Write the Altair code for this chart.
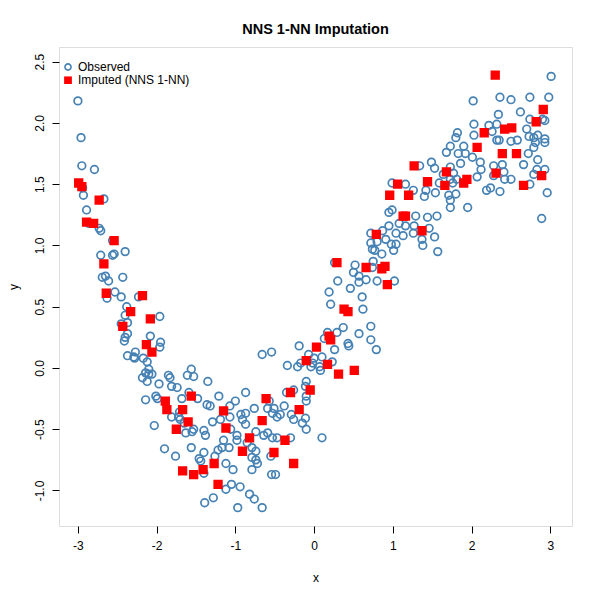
import altair as alt
import pandas as pd

# Observed points
obs_x = [-3.00,-2.96,-2.95,-2.79,-2.94,-2.93,-2.67,-2.89,-2.86,-2.73,-2.71,-2.56,-2.71,-2.56,-2.54,-2.40,-2.69,-2.65,-2.61,-2.43,
         -2.63,-2.53,-2.45,-2.23,-2.38,-2.40,-1.96,-2.45,-2.37,-2.37,-2.40,-2.41,-2.08,-1.95,-1.96,-2.37,-2.27,-2.29,-2.28,-2.17,
         -2.12,-2.10,-1.56,
         -2.14,-2.10,-2.06,-2.18,-2.12,-1.97,-1.85,-1.83,-1.61,-1.53,-1.81,-1.74,-1.35,-0.87,-1.21,-2.14,-2.01,-1.99,-1.68,-1.59,
         -1.48,-1.36,-1.32,-1.07,-1.00,-0.76,-0.57,-0.51,-0.59,-0.53,-0.47,-1.71,-1.72,-1.70,-1.65,-1.81,-2.03,-1.55,-1.53,-1.63,
         -1.40,-1.38,-1.29,-1.19,-1.07,-0.93,-0.87,-0.91,-0.87,-0.98,-1.06,-0.74,-0.59,-0.53,-0.47,-0.64,-1.15,-1.08,-1.17,-1.22,
         -0.98,-1.90,-1.76,-1.56,-1.46,-1.44,-1.40,-1.26,-1.12,-1.03,-0.79,-0.74,-0.79,-0.74,-0.72,-0.79,-0.55,-0.54,-0.49,-1.40,
         -1.12,-1.05,-0.94,-1.28,-1.39,-0.97,-0.82,-0.76,-0.66,
         -0.66,-0.54,-0.43,-0.38,-0.35,-0.26,-0.11,-0.10,-0.10,-0.29,-0.26,-0.15,-0.10,0.10,-0.11,-0.30,-0.85,
         0.26,0.52,0.50,0.57,0.66,0.57,0.46,0.30,0.19,0.21,0.61,0.62,0.80,0.72,0.77,0.86,0.75,0.80,0.17,0.29,
         0.37,0.13,0.26,0.43,0.44,0.57,0.72,0.72,0.79,-0.19,-0.07,0.00,0.10,0.07,0.23,-0.02,-0.04,-0.17,-0.21,-0.34,
         0.08,-0.10,
         0.72,0.87,0.91,1.04,1.04,0.74,0.74,1.02,0.98,1.01,0.95,0.99,1.29,1.44,1.56,1.08,1.16,1.27,0.95,1.46,
         1.13,1.26,1.53,1.37,1.38,1.57,1.95,1.73,1.73,1.71,1.80,1.54,1.40,
         2.03,2.22,2.32,1.82,1.80,2.03,2.32,1.73,1.90,1.68,1.83,1.92,2.01,1.86,2.11,2.12,2.28,1.49,1.53,1.34,
         1.73,1.64,1.77,1.81,2.07,1.76,1.59,1.42,1.26,1.16,0.99,2.19,2.24,2.28,
         3.01,2.02,2.36,2.50,2.74,2.98,2.34,2.62,2.74,2.90,2.93,2.26,2.70,2.73,2.79,2.84,2.93,2.93,2.81,2.79,
         2.35,2.50,2.58,2.39,2.41,2.50,2.42,2.72,2.84,2.66,2.83,2.93,2.79,2.74,2.96,2.36,1.73,2.89]
obs_y = [2.18,1.88,1.65,1.62,1.47,1.41,1.38,1.29,1.18,1.14,1.12,1.04,0.92,0.92,0.93,0.95,0.74,0.75,0.71,0.74,
         0.57,0.62,0.58,0.58,0.50,0.43,0.42,0.36,0.37,0.28,0.25,0.22,0.26,0.21,0.17,0.10,0.13,0.09,0.08,0.08,
         0.05,-0.01,-0.01,
         -0.04,-0.05,-0.05,-0.08,-0.11,-0.13,-0.06,-0.08,-0.06,-0.07,-0.15,-0.16,-0.11,-0.20,-0.23,-0.26,-0.23,-0.25,-0.25,-0.20,
         -0.25,-0.30,-0.31,-0.31,-0.27,-0.33,-0.27,-0.33,-0.33,-0.37,-0.40,-0.36,-0.40,-0.42,-0.45,-0.40,-0.47,-0.52,-0.50,-0.53,
         -0.51,-0.55,-0.44,-0.42,-0.40,-0.38,-0.37,-0.42,-0.46,-0.55,-0.50,-0.52,-0.53,-0.57,-0.57,-0.55,-0.59,-0.65,-0.65,-0.67,
         -0.59,-0.66,-0.72,-0.65,-0.74,-0.76,-0.69,-0.72,-0.78,-0.83,-0.65,-0.68,-0.73,-0.75,-0.78,-0.83,-0.72,-0.87,-0.87,-0.86,
         -0.99,-0.95,-0.97,-1.06,-1.10,-1.14,-1.03,-1.07,-1.14,
         0.11,0.13,-0.38,-0.31,-0.20,-0.18,-0.15,-0.23,-0.27,-0.38,-0.42,-0.45,-0.50,-0.57,-0.41,-0.57,-0.61,
         0.86,0.84,0.78,0.75,0.72,0.70,0.65,0.71,0.62,0.52,0.58,0.48,0.71,1.02,0.96,0.93,0.87,1.03,0.29,0.29,
         0.33,0.24,0.15,0.20,0.18,0.28,0.34,0.23,0.15,0.18,0.11,0.08,0.09,0.01,0.05,0.04,0.01,0.04,0.01,0.02,
         -0.02,-0.11,
         1.10,1.12,1.05,1.10,1.01,0.97,0.82,0.71,1.01,0.96,1.27,1.29,1.24,1.23,1.24,1.18,1.16,1.16,1.16,1.14,
         1.08,1.10,1.07,1.05,1.00,0.95,1.31,1.31,1.37,1.41,1.42,1.43,1.40,
         1.99,1.98,1.99,1.92,1.88,1.90,1.86,1.81,1.81,1.76,1.75,1.75,1.72,1.67,1.68,1.62,1.65,1.68,1.63,1.65,
         1.64,1.58,1.59,1.54,1.56,1.51,1.51,1.45,1.45,1.50,1.51,1.45,1.47,1.57,
         2.38,2.18,2.21,2.19,2.21,2.21,2.07,2.09,2.03,2.03,2.02,1.93,1.95,1.89,1.88,1.90,1.87,1.84,1.84,1.80,
         1.86,1.85,1.86,1.66,1.60,1.54,1.54,1.75,1.70,1.66,1.62,1.62,1.58,1.50,1.43,1.44,1.54,1.22]

# Imputed points (NNS 1-NN)
imp_x = [-2.99,-2.95,-2.73,-2.89,-2.80,-2.54,-2.67,-2.64,-2.18,-2.33,-2.08,-2.43,-2.13,-2.06,-1.89,-1.87,-1.56,-1.67,-1.60,-1.75,
         -1.15,-1.12,-0.61,-0.66,-0.82,-0.91,-0.51,-1.67,-1.53,-1.41,-1.27,-1.22,-0.30,-0.05,-0.19,-0.37,-0.26,0.29,0.66,0.86,
         0.90,0.93,0.38,0.43,0.19,0.21,0.03,-0.10,0.17,0.31,0.51,2.16,2.07,1.27,1.68,1.44,1.94,1.90,1.66,1.06,
         0.96,1.20,2.31,1.13,1.16,1.37,0.79,2.30,2.91,2.82,2.42,2.51,2.39,2.57,2.89,2.66]
imp_y = [1.51,1.48,1.37,1.19,1.18,1.04,0.85,0.61,0.59,0.46,0.40,0.34,0.19,0.13,-0.27,-0.34,-0.23,-0.34,-0.44,-0.50,
         -0.35,-0.49,-0.25,-0.43,-0.57,-0.68,-0.69,-0.84,-0.87,-0.83,-0.78,-0.95,-0.20,-0.18,-0.34,-0.59,-0.78,0.86,0.82,0.81,
         0.83,0.68,0.48,0.46,0.26,0.23,0.17,0.06,0.03,-0.05,-0.02,1.92,1.80,1.65,1.60,1.52,1.54,1.51,1.49,1.50,
         1.41,1.41,1.59,1.24,1.24,1.12,1.09,2.39,2.11,2.01,1.95,1.96,1.75,1.75,1.57,1.49]

series_names = ["Observed", "Imputed (NNS 1-NN)"]
x_ticks = [-3, -2, -1, 0, 1, 2, 3]
y_ticks = [-1.0, -0.5, 0.0, 0.5, 1.0, 1.5, 2.0, 2.5]

df = pd.concat([
    pd.DataFrame({"x": obs_x, "y": obs_y, "series": series_names[0]}),
    pd.DataFrame({"x": imp_x, "y": imp_y, "series": series_names[1]}),
], ignore_index=True)

FONT = "Liberation Sans"
neg_fix = "replace(format(datum.value, '{f}'), '\u2212', '-')"

legend = alt.Legend(
    title=None, orient="none", legendX=3, legendY=16, padding=0,
    labelFontSize=12, labelFont=FONT, labelColor="black", labelOffset=4,
    symbolSize=38, symbolStrokeWidth=1.6, rowPadding=1.2, clipHeight=8,
)

chart = alt.Chart(df).mark_point(filled=True, opacity=1, size=58, strokeWidth=1.7).encode(
    x=alt.X("x:Q", scale=alt.Scale(domain=[-3.24, 3.275], nice=False, zero=False),
            axis=alt.Axis(values=x_ticks, title="x", grid=False, domain=False,
                          tickColor="black", tickSize=7, labelPadding=7,
                          labelExpr=neg_fix.format(f="d"),
                          labelFont=FONT, labelFontSize=12, labelColor="black",
                          titleFont=FONT, titleFontSize=12, titleFontWeight="normal",
                          titleColor="black", titleY=55, titleBaseline="alphabetic")),
    y=alt.Y("y:Q", scale=alt.Scale(domain=[-1.29, 2.62], nice=False, zero=False),
            axis=alt.Axis(values=y_ticks, title="y", grid=False, domain=False,
                          tickColor="black", tickSize=7, labelPadding=9,
                          labelAngle=-90, labelAlign="center", labelBaseline="alphabetic",
                          labelExpr=neg_fix.format(f=".1f"),
                          labelFont=FONT, labelFontSize=12, labelColor="black",
                          titleFont=FONT, titleFontSize=12, titleFontWeight="normal",
                          titleColor="black", titleX=-42, titleY=239.5,
                          titleAngle=-90, titleAlign="center", titleBaseline="alphabetic")),
    stroke=alt.Stroke("series:N", scale=alt.Scale(domain=series_names, range=["#4682B4", "#FF0000"]), legend=legend),
    fill=alt.Fill("series:N", scale=alt.Scale(domain=series_names, range=["transparent", "#FF0000"]), legend=legend),
    shape=alt.Shape("series:N", scale=alt.Scale(domain=series_names, range=["circle", "square"]), legend=legend),
).properties(
    width=513, height=479,
    title=alt.Title("NNS 1-NN Imputation", font=FONT, fontSize=14.5, fontWeight="bold",
                    color="black", anchor="middle", baseline="alphabetic", offset=12, dy=13),
    padding={"left": 51, "top": 39, "right": 20, "bottom": 66},
    autosize=alt.AutoSizeParams(type="none"),
).configure_view(stroke="black", strokeWidth=1).configure(background="white")

chart.save("out.html", embed_options={"renderer": "svg", "actions": False})
